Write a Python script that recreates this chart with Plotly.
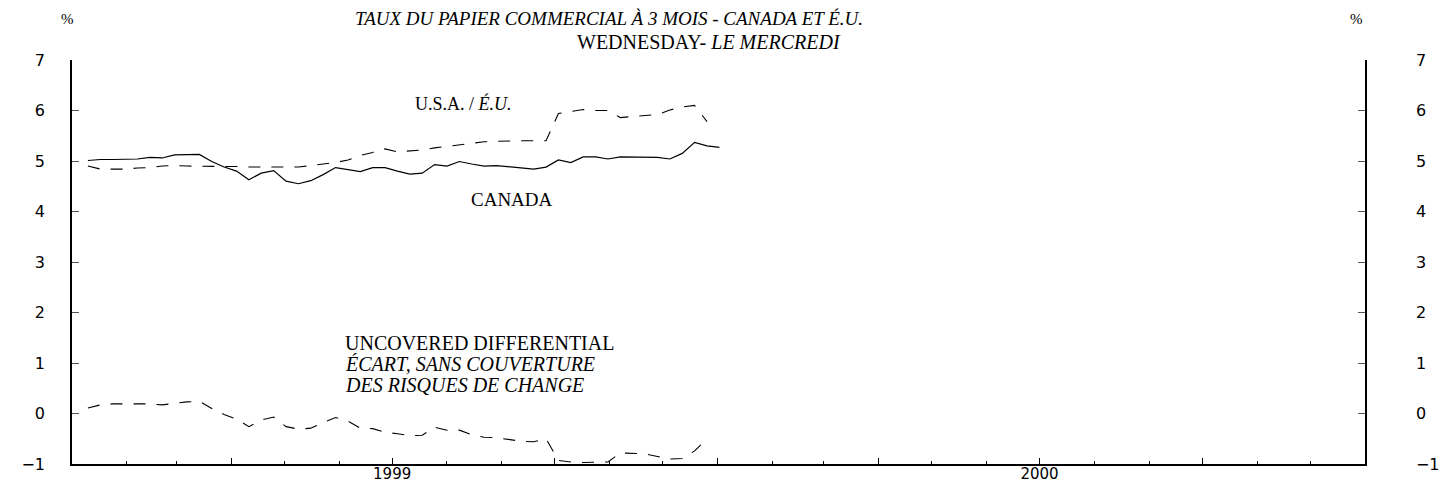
import pandas as pd
import plotly.graph_objects as go

# ---- data (weekly, Wednesdays) ----
week_start = "1999-01-10"
canada = [5.01, 5.03, 5.03, 5.04, 5.04, 5.07, 5.06, 5.12, 5.12, 5.13,
          4.99, 4.88, 4.80, 4.63, 4.76, 4.81, 4.60, 4.55, 4.61, 4.73,
          4.87, 4.83, 4.79, 4.87, 4.87, 4.80, 4.74, 4.76, 4.93, 4.90,
          4.99, 4.94, 4.90, 4.91, 4.89, 4.86, 4.84, 4.88, 5.02, 4.97,
          5.08, 5.08, 5.04, 5.08, 5.08, 5.08, 5.07, 5.04, 5.15, 5.37,
          5.30, 5.27]
usa = [4.90, 4.84, 4.84, 4.84, 4.86, 4.87, 4.90, 4.91, 4.90, 4.90,
       4.90, 4.90, 4.89, 4.88, 4.88, 4.87, 4.88, 4.88, 4.91, 4.94,
       4.97, 5.02, 5.11, 5.17, 5.24, 5.18, 5.20, 5.22, 5.26, 5.29,
       5.33, 5.36, 5.38, 5.39, 5.40, 5.40, 5.40, 5.40, 5.94, 5.98,
       6.02, 6.00, 6.00, 5.86, 5.88, 5.90, 5.92, 6.01, 6.07, 6.10,
       5.78]
differential = [0.11, 0.17, 0.19, 0.19, 0.18, 0.19, 0.17, 0.20, 0.23, 0.24,
                0.10, -0.02, -0.11, -0.26, -0.13, -0.07, -0.26, -0.31, -0.29, -0.18,
                -0.08, -0.15, -0.29, -0.30, -0.37, -0.40, -0.44, -0.43, -0.27, -0.33,
                -0.33, -0.42, -0.47, -0.48, -0.52, -0.55, -0.56, -0.50, -0.93, -0.96,
                -0.97, -0.96, -0.96, -0.78, -0.79, -0.80, -0.85, -0.90, -0.89, -0.74,
                -0.50]

y_ticks = [-1, 0, 1, 2, 3, 4, 5, 6, 7]
y_ticktext = ["\u22121", "0", "1", "2", "3", "4", "5", "6", "7"]
x_tickvals = ["1999-01-01", "1999-04-01", "1999-07-01", "1999-10-01",
              "2000-01-01", "2000-04-01", "2000-07-01", "2000-10-01", "2001-01-01"]
x_ticktext = ["", "", "1999", "", "", "", "2000", "", ""]
x_range = ["1999-01-01", "2001-01-01"]

dates_ca = pd.date_range(week_start, periods=len(canada), freq="7D")
dates_us = pd.date_range(week_start, periods=len(usa), freq="7D")
dates_df = pd.date_range(week_start, periods=len(differential), freq="7D")

fig = go.Figure()
fig.add_trace(go.Scatter(x=dates_ca, y=canada, mode="lines",
                         line=dict(color="#000000", width=1.2), name="CANADA"))
fig.add_trace(go.Scatter(x=dates_us, y=usa, mode="lines",
                         line=dict(color="#000000", width=1.1, dash="12px,11px"),
                         name="U.S.A."))
fig.add_trace(go.Scatter(x=dates_df, y=differential, mode="lines",
                         line=dict(color="#000000", width=1.1, dash="12px,11px"),
                         name="Differential"))
# invisible trace to carry right axis
fig.add_trace(go.Scatter(x=[x_range[0]], y=[None], yaxis="y2", showlegend=False,
                         hoverinfo="skip"))

L, R, T, B = 72, 79, 60, 21
W, H = 1444, 485
pw, ph = W - L - R, H - T - B

def px(x):
    return (x - L) / pw

def py(y):
    return (H - B - y) / ph

tickfont = dict(family="DejaVu Sans", size=16, color="#000000")
xtickfont = dict(family="DejaVu Sans", size=15, color="#000000")
serif = "Liberation Serif"

fig.update_layout(
    width=W, height=H,
    margin=dict(l=L, r=R, t=T, b=B, pad=0, autoexpand=False),
    paper_bgcolor="white", plot_bgcolor="white",
    showlegend=False,
    xaxis=dict(type="date", range=x_range, showgrid=False, zeroline=False,
               automargin=False,
               showline=True, linecolor="#000000", linewidth=1.5,
               ticks="inside", ticklen=6, tickwidth=1.2, tickcolor="#000000",
               tickmode="array", tickvals=x_tickvals, ticktext=x_ticktext,
               tickfont=xtickfont, ticklabelstandoff=-5,
               minor=dict(ticks="inside", ticklen=3, tickwidth=1,
                          tickcolor="#000000", dtick="M1", tick0="1999-01-01",
                          showgrid=False)),
    yaxis=dict(range=[-1, 7], showgrid=False, zeroline=False, automargin=False,
               showline=True, linecolor="#000000", linewidth=1.5,
               ticks="inside", ticklen=7, tickwidth=1, tickcolor="#555555",
               tickmode="array", tickvals=y_ticks, ticktext=y_ticktext,
               tickfont=tickfont, ticklabelstandoff=22),
    yaxis2=dict(range=[-1, 7], overlaying="y", side="right", showgrid=False,
                zeroline=False, automargin=False,
                showline=True, linecolor="#000000", linewidth=1.5,
                ticks="inside", ticklen=7, tickwidth=1, tickcolor="#555555",
                tickmode="array", tickvals=y_ticks, ticktext=y_ticktext,
                tickfont=tickfont, ticklabelstandoff=46),
)

ann = []
def add(text, x, y, size, xanchor="left"):
    ann.append(dict(text=text, xref="paper", yref="paper", x=px(x), y=py(y),
                    xanchor=xanchor, yanchor="middle", showarrow=False,
                    font=dict(family=serif, size=size, color="#000000")))

add("%", 67.5, 19, 15, "center")
add("%", 1356, 19, 15, "center")
add("<i>TAUX DU PAPIER COMMERCIAL À 3 MOIS - CANADA ET É.U.</i>", 353, 19, 19, "left")
add("WEDNESDAY- <i>LE MERCREDI</i>", 709, 42, 20, "center")
add("U.S.A. / <i>É.U.</i>", 413, 103, 18, "left")
add("CANADA", 469, 199, 19, "left")
add("UNCOVERED DIFFERENTIAL", 343, 343, 20, "left")
add("<i>ÉCART, SANS COUVERTURE</i>", 343, 364, 20, "left")
add("<i>DES RISQUES DE CHANGE</i>", 343, 385, 20, "left")
fig.update_layout(annotations=ann)

fig.write_html("out.html", config={"displayModeBar": False},
               post_script="document.body.style.margin='0';")
